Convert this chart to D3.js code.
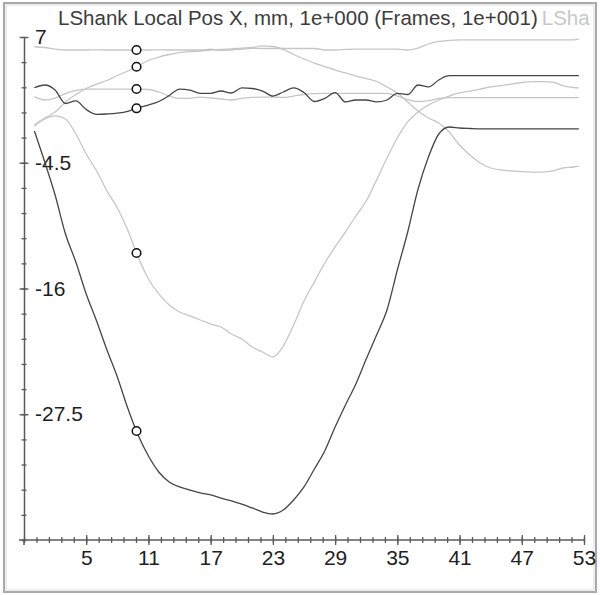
<!DOCTYPE html>
<html>
<head>
<meta charset="utf-8">
<script src="https://cdn.jsdelivr.net/npm/d3@7"></script>
<style>
  html, body { margin: 0; padding: 0; background: #ffffff; }
  svg { display: block; }
  text { font-family: "Liberation Sans", Arial, sans-serif; }
</style>
</head>
<body>
<svg id="chart" width="600" height="595"></svg>
<script>
// Sample frames (x) shared by every trace
const frames = [0, 1, 2, 3, 4, 5, 6, 7, 8, 9, 10, 11, 12, 13, 14, 15, 16, 17, 18, 19,
  20, 21, 22, 23, 24, 25, 26, 27, 28, 29, 30, 31, 32, 33, 34, 35, 36, 37, 38, 39,
  40, 41, 42, 43, 44, 45, 46, 47, 48, 49, 50, 51, 52, 52.5];

// Dark trace with the deep trough
const traceDeep = [-1.60, -4.43, -7.45, -11.02, -13.58, -16.50, -18.97, -21.62, -24.09, -26.93,
  -29.40, -31.32, -32.78, -33.70, -34.15, -34.43, -34.70, -34.88, -35.16, -35.43,
  -35.71, -36.07, -36.44, -36.62, -36.26, -35.34, -34.15, -32.51, -30.86, -28.67,
  -26.65, -24.73, -22.45, -20.25, -17.97, -14.31, -10.83, -6.90, -3.97, -1.87,
  -1.23, -1.32, -1.37, -1.41, -1.41, -1.41, -1.41, -1.41, -1.41, -1.41, -1.41, -1.41, -1.41, -1.41];

// Light trace with the shallower trough
const traceShallow = [-1.14, -0.50, -0.22, -0.50, -1.87, -3.70, -5.25, -7.08, -8.64, -10.65,
  -13.12, -15.13, -16.50, -17.51, -18.15, -18.51, -18.88, -19.25, -19.52, -20.16,
  -20.62, -21.35, -21.81, -22.26, -21.26, -19.34, -17.14, -15.40, -13.67, -12.20,
  -10.83, -9.37, -8.00, -6.08, -4.07, -2.24, -0.77, 0.14, 0.78, 1.24,
  1.60, 1.88, 2.06, 2.24, 2.43, 2.56, 2.70, 2.84, 2.91, 2.91, 2.88, 2.52, 2.38, 2.34];

// Dark wavy trace near zero
const traceWavy = [2.36, 2.61, 2.15, 0.92, 1.15, 0.37, -0.07, -0.04, 0.03, 0.19,
  0.53, 0.78, 1.10, 1.65, 2.24, 2.15, 1.85, 1.85, 2.06, 1.88,
  2.34, 2.29, 2.06, 1.60, 1.97, 2.34, 1.92, 1.10, 1.38, 1.92,
  1.06, 1.24, 1.24, 1.06, 1.24, 1.85, 1.74, 2.61, 2.43, 3.07,
  3.46, 3.46, 3.46, 3.46, 3.46, 3.46, 3.46, 3.46, 3.46, 3.46, 3.46, 3.46, 3.46, 3.46];

// Light trace along the top
const traceTop = [6.11, 6.04, 5.90, 5.81, 5.81, 5.81, 5.83, 5.81, 5.81, 5.81,
  5.81, 5.81, 5.83, 5.81, 5.81, 5.81, 5.81, 5.90, 5.77, 5.81,
  5.90, 5.97, 5.95, 5.95, 5.95, 5.95, 5.95, 5.95, 5.81, 5.81,
  5.86, 5.90, 5.90, 5.90, 5.90, 5.90, 5.81, 5.99, 6.36, 6.59,
  6.68, 6.73, 6.73, 6.73, 6.73, 6.73, 6.73, 6.73, 6.73, 6.73, 6.73, 6.73, 6.73, 6.82];

// Light trace rising to a mid-cycle peak, then falling
const traceArch = [-1.05, -0.41, 0.14, 1.06, 1.74, 2.29, 2.70, 3.02, 3.48, 3.89,
  4.35, 4.85, 5.17, 5.40, 5.58, 5.67, 5.72, 5.81, 5.86, 5.92,
  5.99, 6.04, 6.18, 6.13, 5.86, 5.40, 4.99, 4.62, 4.30, 3.98,
  3.71, 3.43, 3.20, 2.93, 2.43, 1.88, 1.06, 0.23, -0.41, -0.86,
  -1.69, -2.88, -3.79, -4.52, -4.98, -5.16, -5.25, -5.32, -5.35, -5.35, -5.25, -4.98, -4.89, -4.80];

// Light flat trace near 1.5
const traceFlat = [1.54, 1.24, 1.42, 1.83, 2.11, 2.24, 2.24, 2.24, 2.24, 2.24,
  2.24, 2.20, 1.97, 1.60, 1.38, 1.39, 1.51, 1.42, 1.33, 1.24,
  1.38, 1.47, 1.51, 1.51, 1.47, 1.60, 1.74, 1.83, 1.85, 1.85,
  1.85, 1.85, 1.85, 1.85, 1.85, 1.60, 1.28, 1.10, 1.19, 1.38,
  1.45, 1.45, 1.45, 1.45, 1.45, 1.45, 1.45, 1.45, 1.45, 1.45, 1.45, 1.45, 1.45, 1.45];

// Axis labels
const yTickLabels = [7, -4.5, -16, -27.5];
const xTickLabels = [5, 11, 17, 23, 29, 35, 41, 47, 53];

// Frame where the cursor markers sit
const cursorFrame = 9.85;

const titleMain = "LShank Local Pos X, mm, 1e+000 (Frames, 1e+001)";
const titleNext = "LSha";

const dark = "#454545", light = "#c6c6c6", axisColor = "#5a5a5a";

const svg = d3.select("#chart");

// Panel frame
svg.append("rect").attr("x", 4).attr("y", 3).attr("width", 592).attr("height", 589)
  .attr("fill", "#ffffff").attr("stroke", "#a9a9a9").attr("stroke-width", 2);
svg.append("rect").attr("x", 6).attr("y", 5).attr("width", 588).attr("height", 585)
  .attr("fill", "none").attr("stroke", "#dcdcdc").attr("stroke-width", 1);

const x = d3.scaleLinear().domain([-1, 53]).range([24, 584]);
const y = d3.scaleLinear().domain([-39, 7]).range([540, 37]);

// Title, followed by the start of the next entry in light grey
const title = svg.append("text").attr("x", 58).attr("y", 25).attr("font-size", 20.5);
title.append("tspan").attr("fill", "#3c3c3c").text(titleMain);
title.append("tspan").attr("fill", "#c8c8c8").attr("dx", 4).text(titleNext);

// Minor tick positions subdivide the labelled intervals
const yStep = (yTickLabels[0] - yTickLabels[1]) / 5;
const yMinor = d3.range(0, 21).map(i => yTickLabels[0] - i * yStep);
const xStep = (xTickLabels[1] - xTickLabels[0]) / 5;
const xMinor = d3.range(0, 46).map(i => -1 + i * xStep);

function styleAxis(g) {
  g.select(".domain").attr("stroke", axisColor).attr("stroke-width", 1.5);
  g.selectAll(".tick line").attr("stroke", axisColor).attr("stroke-width", 1.3);
}

// Y axis: minor ticks, then labelled ticks
const gyMinor = svg.append("g").attr("transform", "translate(24,0)")
  .call(d3.axisLeft(y).tickValues(yMinor).tickSizeInner(2.5).tickSizeOuter(0).tickFormat(""));
gyMinor.selectAll(".tick line").attr("x1", 2.5);
styleAxis(gyMinor);
const gyMajor = svg.append("g").attr("transform", "translate(24,0)")
  .call(d3.axisLeft(y).tickValues(yTickLabels).tickSizeInner(4.5).tickSizeOuter(0).tickFormat(d => String(d)));
gyMajor.selectAll(".tick line").attr("x1", 4.5);
gyMajor.select(".domain").remove();
gyMajor.selectAll(".tick text").attr("x", 11).attr("text-anchor", "start")
  .attr("font-size", 21).attr("fill", "#1e1e1e").attr("font-family", null);
styleAxis(gyMajor);

// X axis
const gxMinor = svg.append("g").attr("transform", "translate(0,540)")
  .call(d3.axisBottom(x).tickValues(xMinor).tickSizeInner(3).tickSizeOuter(0).tickFormat(""));
gxMinor.selectAll(".tick line").attr("y1", -3);
styleAxis(gxMinor);
gxMinor.select(".domain").attr("d", `M${x(-1) - 5},0H${x(53)}`);
const gxMajor = svg.append("g").attr("transform", "translate(0,540)")
  .call(d3.axisBottom(x).tickValues(xTickLabels).tickSizeInner(5).tickSizeOuter(0).tickFormat(d => String(d)));
gxMajor.selectAll(".tick line").attr("y1", -5);
gxMajor.select(".domain").remove();
gxMajor.selectAll(".tick text").attr("y", 10).attr("font-size", 21).attr("fill", "#1e1e1e").attr("font-family", null);
styleAxis(gxMajor);
// y axis runs a little past the x axis
svg.append("line").attr("x1", 24).attr("x2", 24).attr("y1", 540).attr("y2", 545)
  .attr("stroke", axisColor).attr("stroke-width", 1.5);

// Traces
const traces = [
  { values: traceTop, color: light },
  { values: traceArch, color: light },
  { values: traceFlat, color: light },
  { values: traceShallow, color: light },
  { values: traceWavy, color: dark },
  { values: traceDeep, color: dark }
];
const line = d3.line().x(d => x(d[0])).y(d => y(d[1])).curve(d3.curveMonotoneX);
svg.append("g").selectAll("path").data(traces).join("path")
  .attr("d", t => line(frames.map((f, i) => [f, t.values[i]])))
  .attr("fill", "none").attr("stroke", t => t.color).attr("stroke-width", 1.3);

// Cursor markers on every trace at the same frame
function valueAt(values, f) {
  const i = d3.bisectRight(frames, f) - 1;
  const t = (f - frames[i]) / (frames[i + 1] - frames[i]);
  return values[i] + t * (values[i + 1] - values[i]);
}
svg.append("g").selectAll("circle").data(traces).join("circle")
  .attr("cx", x(cursorFrame)).attr("cy", t => y(valueAt(t.values, cursorFrame)))
  .attr("r", 4.3).attr("fill", "#ffffff").attr("stroke", "#111").attr("stroke-width", 1.5);
</script>
</body>
</html>
